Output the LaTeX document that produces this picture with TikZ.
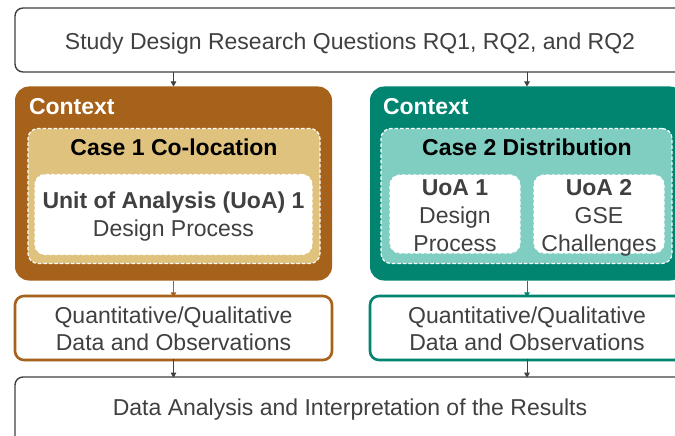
\documentclass[tikz,border=0pt]{standalone}
\usepackage{fontspec}
\setmainfont{Liberation Sans}
\usetikzlibrary{arrows.meta}
\definecolor{brownD}{HTML}{A6611A}
\definecolor{tanL}{HTML}{DFC27D}
\definecolor{tealD}{HTML}{018571}
\definecolor{tealL}{HTML}{80CDC1}
\definecolor{txt}{HTML}{404040}
\begin{document}
\begin{tikzpicture}[x=1pt,y=-1pt,
  every node/.style={inner sep=0pt,outer sep=0pt},
  tx/.style={font=\fontsize{23}{28}\selectfont,text=txt,anchor=base,align=center},
  txb/.style={tx,font=\fontsize{23}{28}\selectfont\bfseries},
  plainbox/.style={draw=txt,line width=1.4pt,fill=white,rounded corners=8pt},
  ctxbox/.style={rounded corners=14pt},
  casebox/.style={draw=white,dash pattern=on 3.5pt off 2pt,line width=1.2pt,rounded corners=10pt},
  uoabox/.style={casebox,fill=white},
  databox/.style={line width=2.6pt,fill=white,rounded corners=9pt},
  arr/.style={line width=1pt,-{Triangle[length=5pt,width=5.5pt]}}
]
\useasboundingbox (0,0) rectangle (675,436);
\clip (0,0) rectangle (675,436);
\fill[white] (0,0) rectangle (675,436);

% top box
\node[plainbox,minimum width=669pt,minimum height=64pt] (top) at (349.5,40) {};
\node[tx] (toptext) at (350,50) {Study Design Research Questions RQ1, RQ2, and RQ2};

% left context
\node[ctxbox,fill=brownD,minimum width=317pt,minimum height=194pt] (ctxL) at (173.5,183.5) {};
\node[txb,text=white,anchor=base west] (ctxLt) at (29,114) {Context};
\node[casebox,fill=tanL,minimum width=292pt,minimum height=135pt] (caseL) at (174,196) {};
\node[txb,text=black] (caseLt) at (174,155) {Case 1 Co-location};
\node[uoabox,minimum width=277pt,minimum height=80pt] (uoaL) at (173.5,214.5) {};
\node[txb] (uoaLt) at (173.5,208) {Unit of Analysis (UoA) 1};
\node[tx] (uoaLd) at (173.5,236) {Design Process};

% right context
\node[ctxbox,fill=tealD,minimum width=314pt,minimum height=194pt] (ctxR) at (527,183.5) {};
\node[txb,text=white,anchor=base west] (ctxRt) at (383,114) {Context};
\node[casebox,fill=tealL,minimum width=291pt,minimum height=135pt] (caseR) at (526.5,196) {};
\node[txb,text=black] (caseRt) at (527,155) {Case 2 Distribution};
\node[uoabox,minimum width=130pt,minimum height=78pt] (uoaR1) at (455,214) {};
\node[txb] (uoaR1t) at (455,195) {UoA 1};
\node[tx] (uoaR1d) at (455,223) {Design};
\node[tx] (uoaR1p) at (455,251) {Process};
\node[uoabox,minimum width=130pt,minimum height=78pt] (uoaR2) at (599,214) {};
\node[txb] (uoaR2t) at (599,195) {UoA 2};
\node[tx] (uoaR2d) at (599,223) {GSE};
\node[tx] (uoaR2p) at (599,251) {Challenges};

% data boxes
\node[databox,draw=brownD,minimum width=317pt,minimum height=64pt] (dataL) at (173.5,328) {};
\node[tx] (dataL1) at (173.5,323) {Quantitative/Qualitative};
\node[tx] (dataL2) at (173.5,350) {Data and Observations};
\node[databox,draw=tealD,minimum width=314pt,minimum height=64pt] (dataR) at (527,328) {};
\node[tx] (dataR1) at (527,323) {Quantitative/Qualitative};
\node[tx] (dataR2) at (527,350) {Data and Observations};

% bottom box
\node[plainbox,minimum width=669pt,minimum height=68pt] (bot) at (349.5,411) {};
\node[tx] (bottext) at (350,415) {Data Analysis and Interpretation of the Results};

% arrows
\draw[arr,draw=txt,fill=txt] (ctxL.north |- top.south) -- (ctxL.north);
\draw[arr,draw=txt,fill=txt] (ctxR.north |- top.south) -- (ctxR.north);
\draw[arr,draw=brownD,fill=brownD] (ctxL.south) -- ([yshift=-1.3pt]dataL.north);
\draw[arr,draw=tealD,fill=tealD] (ctxR.south) -- ([yshift=-1.3pt]dataR.north);
\draw[arr,draw=txt,fill=txt] ([yshift=1.3pt]dataL.south) -- ([yshift=-0.7pt]bot.north -| dataL.south);
\draw[arr,draw=txt,fill=txt] ([yshift=1.3pt]dataR.south) -- ([yshift=-0.7pt]bot.north -| dataR.south);
\end{tikzpicture}
\end{document}
